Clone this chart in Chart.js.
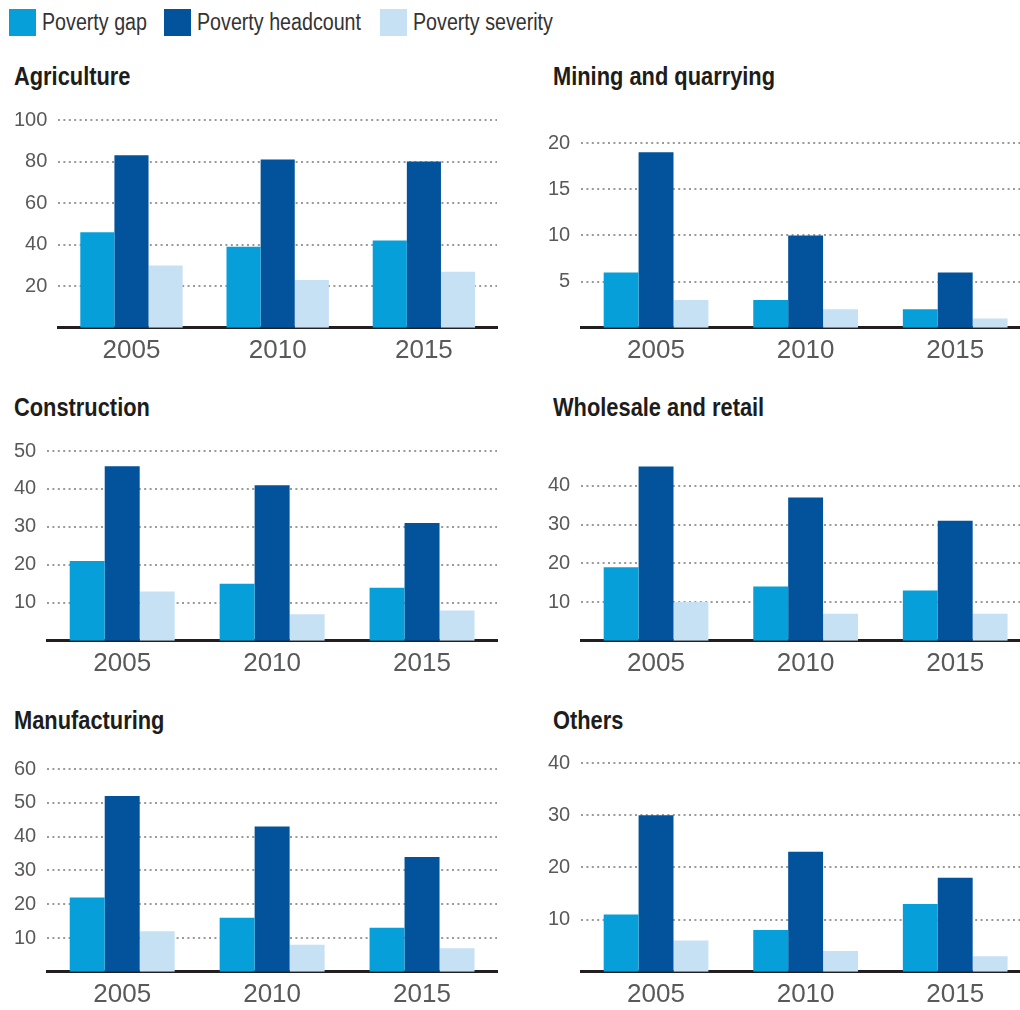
<!DOCTYPE html>
<html>
<head>
<meta charset="utf-8">
<script src="https://cdn.jsdelivr.net/npm/chart.js@4.4.0/dist/chart.umd.min.js"></script>
<style>
  html, body { margin: 0; padding: 0; background: #fff; overflow: hidden; }
  body { width: 1020px; height: 1010px; position: relative; font-family: 'Liberation Sans', Arial, sans-serif; }
  .sw { position: absolute; top: 9px; width: 27px; height: 27px; }
  .lbl { position: absolute; top: 7px; font-size: 23px; line-height: 30px; color: #333; white-space: nowrap; transform: scaleX(0.855); transform-origin: left center; }
  .title { position: absolute; font-weight: bold; font-size: 26px; line-height: 30px; color: #1d1d1b; white-space: nowrap; transform: scaleX(0.84); transform-origin: left center; }
  canvas { position: absolute; }
</style>
</head>
<body>
<script>
// categories and series
const years = ['2005', '2010', '2015'];
const seriesNames = ['Poverty gap', 'Poverty headcount', 'Poverty severity'];
const seriesColors = ['#079fda', '#02529c', '#c7e1f4'];

// values per sector: gap, headcount, severity
const agricultureGap = [46, 39, 42];
const agricultureHeadcount = [83, 81, 80];
const agricultureSeverity = [30, 23, 27];

const miningGap = [6, 3, 2];
const miningHeadcount = [19, 10, 6];
const miningSeverity = [3, 2, 1];

const constructionGap = [21, 15, 14];
const constructionHeadcount = [46, 41, 31];
const constructionSeverity = [13, 7, 8];

const wholesaleGap = [19, 14, 13];
const wholesaleHeadcount = [45, 37, 31];
const wholesaleSeverity = [10, 7, 7];

const manufacturingGap = [22, 16, 13];
const manufacturingHeadcount = [52, 43, 34];
const manufacturingSeverity = [12, 8, 7];

const othersGap = [11, 8, 13];
const othersHeadcount = [30, 23, 18];
const othersSeverity = [6, 4, 3];

// y axis ranges and tick steps
const axisMax = [100, 22.5, 50, 49, 60, 40];
const axisStep = [20, 5, 10, 10, 10, 10];

const panels = [
    { title: 'Agriculture', values: [agricultureGap, agricultureHeadcount, agricultureSeverity] },
    { title: 'Mining and quarrying', values: [miningGap, miningHeadcount, miningSeverity] },
    { title: 'Construction', values: [constructionGap, constructionHeadcount, constructionSeverity] },
    { title: 'Wholesale and retail', values: [wholesaleGap, wholesaleHeadcount, wholesaleSeverity] },
    { title: 'Manufacturing', values: [manufacturingGap, manufacturingHeadcount, manufacturingSeverity] },
    { title: 'Others', values: [othersGap, othersHeadcount, othersSeverity] }
];

// layout
const FONT = "'Liberation Sans', Arial, sans-serif";
const legendX = [9, 164, 380];
const colLeft = [0, 537];
const colWidth = [500, 493];
const colPadLeft = [3, 0];
const colPadRight = [3, 0];
const titleX = [14, 553];
const titleY = [76, 407, 720];
const plotTop = [[117, 117], [448, 448], [766, 760]];
const plotBottom = [328, 641, 972];
const xAxisSpace = 45;   // label line height + twice the tick padding

// legend
seriesNames.forEach((name, i) => {
    const sw = document.createElement('div');
    sw.className = 'sw';
    sw.style.left = legendX[i] + 'px';
    sw.style.background = seriesColors[i];
    document.body.appendChild(sw);
    const lbl = document.createElement('div');
    lbl.className = 'lbl';
    lbl.style.left = (legendX[i] + 33) + 'px';
    lbl.textContent = name;
    document.body.appendChild(lbl);
});

panels.forEach((p, idx) => {
    const col = idx % 2;
    const row = Math.floor(idx / 2);

    const title = document.createElement('div');
    title.className = 'title';
    title.textContent = p.title;
    title.style.left = titleX[col] + 'px';
    title.style.top = (titleY[row] - 15) + 'px';
    document.body.appendChild(title);

    const top = plotTop[row][col] - 20;
    const height = plotBottom[row] + xAxisSpace - top;
    const canvas = document.createElement('canvas');
    canvas.width = colWidth[col];
    canvas.height = height;
    canvas.style.left = colLeft[col] + 'px';
    canvas.style.top = top + 'px';
    document.body.appendChild(canvas);

    const step = axisStep[idx];

    new Chart(canvas, {
        type: 'bar',
        data: {
            labels: years,
            datasets: seriesNames.map((name, i) => ({
                label: name,
                data: p.values[i],
                backgroundColor: seriesColors[i],
                borderWidth: 0,
                categoryPercentage: 0.7,
                barPercentage: 1.0
            }))
        },
        options: {
            responsive: false,
            animation: false,
            devicePixelRatio: 1,
            layout: {
                padding: { top: 20, left: colPadLeft[col], right: colPadRight[col], bottom: 0 }
            },
            plugins: {
                legend: { display: false },
                tooltip: { enabled: false }
            },
            scales: {
                x: {
                    grid: { display: false, drawTicks: false },
                    border: { display: true, color: '#231f20', width: 3 },
                    ticks: { font: { family: FONT, size: 26 }, color: '#58595b', padding: 7 }
                },
                y: {
                    min: 0,
                    max: axisMax[idx],
                    afterBuildTicks: axis => {
                        // no label or grid line at zero, the axis line sits there
                        axis.ticks = axis.ticks.filter(t => t.value > 0 && Math.abs(t.value / step - Math.round(t.value / step)) < 1e-9);
                    },
                    ticks: { stepSize: step, includeBounds: false, font: { family: FONT, size: 20 }, color: '#58595b', padding: 11 },
                    grid: { color: '#9a9a9a', lineWidth: 2, drawTicks: false },
                    border: { display: false, dash: [2, 3.4] }
                }
            }
        }
    });
});
</script>
</body>
</html>
